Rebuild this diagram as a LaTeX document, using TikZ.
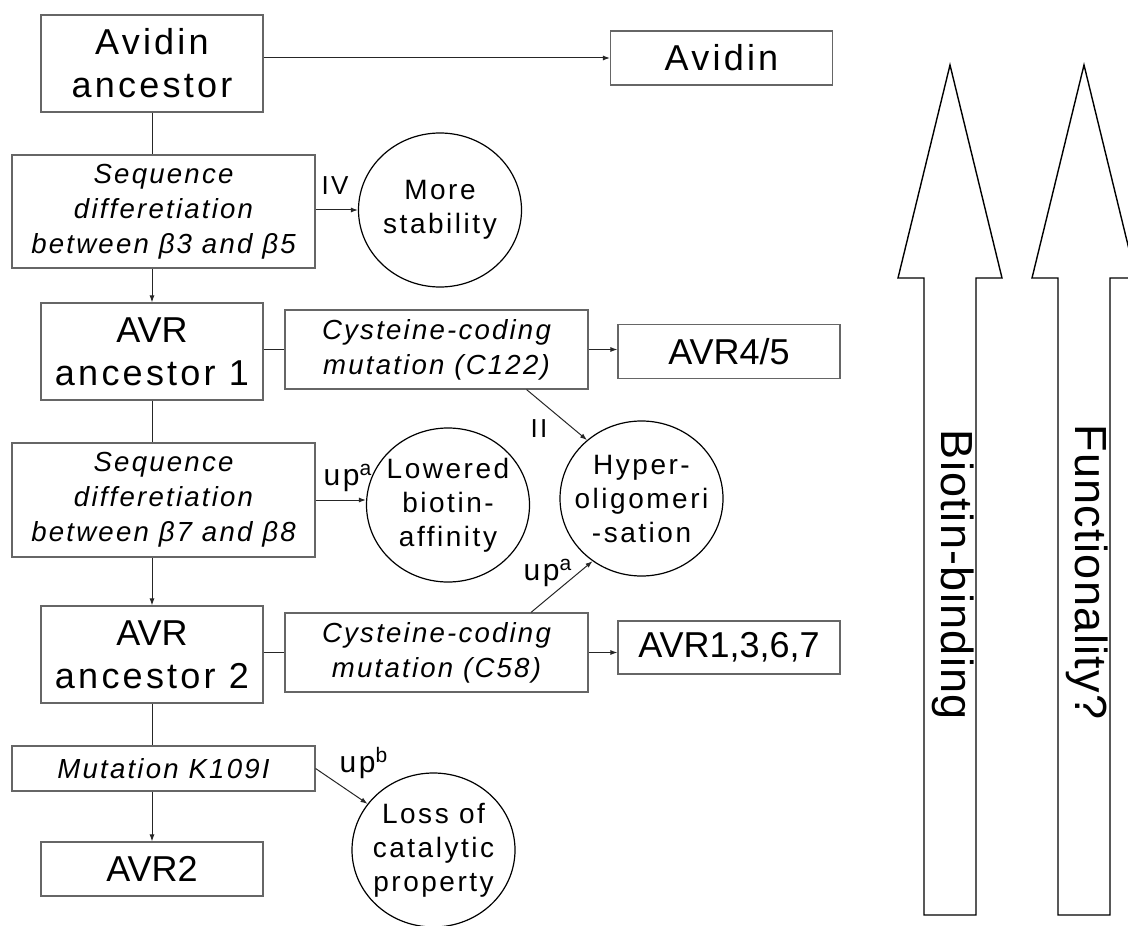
\documentclass[tikz,border=0pt]{standalone}
\usepackage{fontspec}
\setmainfont{Liberation Sans}
\newfontfamily\wide[LetterSpace=9]{Liberation Sans}
\newfontfamily\slant[LetterSpace=8]{Liberation Sans}
\newfontfamily\tall[LetterSpace=3]{Liberation Sans}
\usetikzlibrary{arrows.meta,shapes.geometric}

\tikzset{
    stage/.style={draw=black!60, line width=0.6pt, inner sep=0pt,
        minimum width=111pt, minimum height=48.5pt, align=center,
        font=\fontsize{18}{21.5}\selectfont},
    result/.style={stage, minimum height=27pt},
    change/.style={draw=black!60, line width=0.6pt, inner sep=0pt,
        minimum width=151.5pt, align=center,
        font=\fontsize{13.8}{17.5}\selectfont\slant\itshape},
    effect/.style={ellipse, draw, line width=0.6pt, inner sep=0pt,
        minimum width=81.5pt, minimum height=77pt},
    efftext/.style={align=center, font=\fontsize{14}{17}\selectfont\wide},
    note/.style={font=\fontsize{13}{15}\selectfont\wide},
    upnote/.style={font=\fontsize{15}{17}\selectfont\wide},
    link/.style={draw=black!85, line width=0.5pt},
    flow/.style={link, -{Latex[length=3.5pt,width=2.5pt]}},
    bigarrow/.style={draw, line width=0.7pt},
    side/.style={rotate=-90, font=\fontsize{22.5}{26}\selectfont\tall}
}

\begin{document}
\begin{tikzpicture}[x=0.5pt, y=-0.5pt]
    \useasboundingbox (0,0) rectangle (1128,925);
    \clip (0,0) rectangle (1128,925);

    % main line
    \node[stage] (anc0) at (152,63.5) {{\wide Avidin}\\{\wide ancestor}};
    \node[change, minimum height=56.5pt] (seq1) at (163.5,211.5)
        {Sequence\\differetiation\\between β3 and β5};
    \node[stage] (anc1) at (152,351.5) {AVR\\{\wide ancestor 1}};
    \node[change, minimum height=57pt] (seq2) at (163.5,500)
        {Sequence\\differetiation\\between β7 and β8};
    \node[stage] (anc2) at (152,654.5) {AVR\\{\wide ancestor 2}};
    \node[change, minimum height=22.5pt] (mut) at (163.5,768.5) {Mutation K109I};
    \node[result] (avr2) at (152,869) {AVR2};

    % side branches
    \node[result] (avidin) at (721.5,58) {\wide Avidin};
    \node[change, minimum height=39.5pt] (cys1) at (436.5,349.5)
        {Cysteine-coding\\mutation (C122)};
    \node[result] (avr45) at (729,351.5) {AVR4/5};
    \node[change, minimum height=39.5pt] (cys2) at (436.5,652.5)
        {Cysteine-coding\\mutation (C58)};
    \node[result, minimum height=26.5pt] (avr1367) at (729,647.5) {AVR1,3,6,7};

    % effects
    \node[effect, label={[efftext]center:More\\stability}] (stab) at (440,210) {};
    \node[effect, label={[efftext]center:Lowered\\biotin-\\affinity}] (low) at (448,505) {};
    \node[effect, minimum width=81.5pt, minimum height=77.5pt,
        label={[efftext]center:Hyper-\\oligomeri\\-sation}] (hyper) at (641.5,498.5) {};
    \node[effect, label={[efftext]center:Loss of\\catalytic\\property}] (loss) at (433.5,850) {};

    \node[note] (iv) at (335,186) {IV};
    \node[note] (ii) at (539,429) {II};
    \node[upnote] (upa) at (348,478) {up\textsuperscript{a}};
    \node[upnote] (upc) at (548,573) {up\textsuperscript{a}};
    \node[upnote] (upb) at (364,763) {up\textsuperscript{b}};

    \draw[flow] (anc0.east |- avidin) -- (avidin);
    \draw[link] (anc0) -- (anc0 |- seq1.north);
    \draw[flow] (seq1.east |- stab) -- (stab);
    \draw[flow] (anc1 |- seq1.south) -- (anc1);
    \draw[link] (anc1.east |- cys1) -- (cys1);
    \draw[flow] (cys1.east) -- (cys1.east -| avr45.west);
    \draw[flow] (cys1.-24) -- (hyper.133);
    \draw[link] (anc1) -- (anc1 |- seq2.north);
    \draw[flow] (seq2.east) -- (seq2.east -| low.west);
    \draw[flow] (anc2 |- seq2.south) -- (anc2);
    \draw[link] (anc2.east |- cys2) -- (cys2);
    \draw[flow] (cys2.east) -- (cys2.east -| avr1367.west);
    \draw[flow] (cys2.23) -- (hyper.232);
    \draw[link] (anc2) -- (anc2 |- mut.north);
    \draw[flow] (mut.south -| avr2) -- (avr2);
    \draw[flow] (mut.east) -- (loss.145);

    % arrows on the right
    \draw[bigarrow] (924,915) -- (924,278) -- (898,278) -- (950,65)
        -- (1002,278) -- (976,278) -- (976,915) -- cycle;
    \draw[bigarrow] (1058,915) -- (1058,278) -- (1032,278) -- (1084,65)
        -- (1136,278) -- (1110,278) -- (1110,915) -- cycle;
    \node[side] (bind) at (953,575) {Biotin-binding};
    \node[side] (func) at (1087,572) {Functionality?};
\end{tikzpicture}
\end{document}
